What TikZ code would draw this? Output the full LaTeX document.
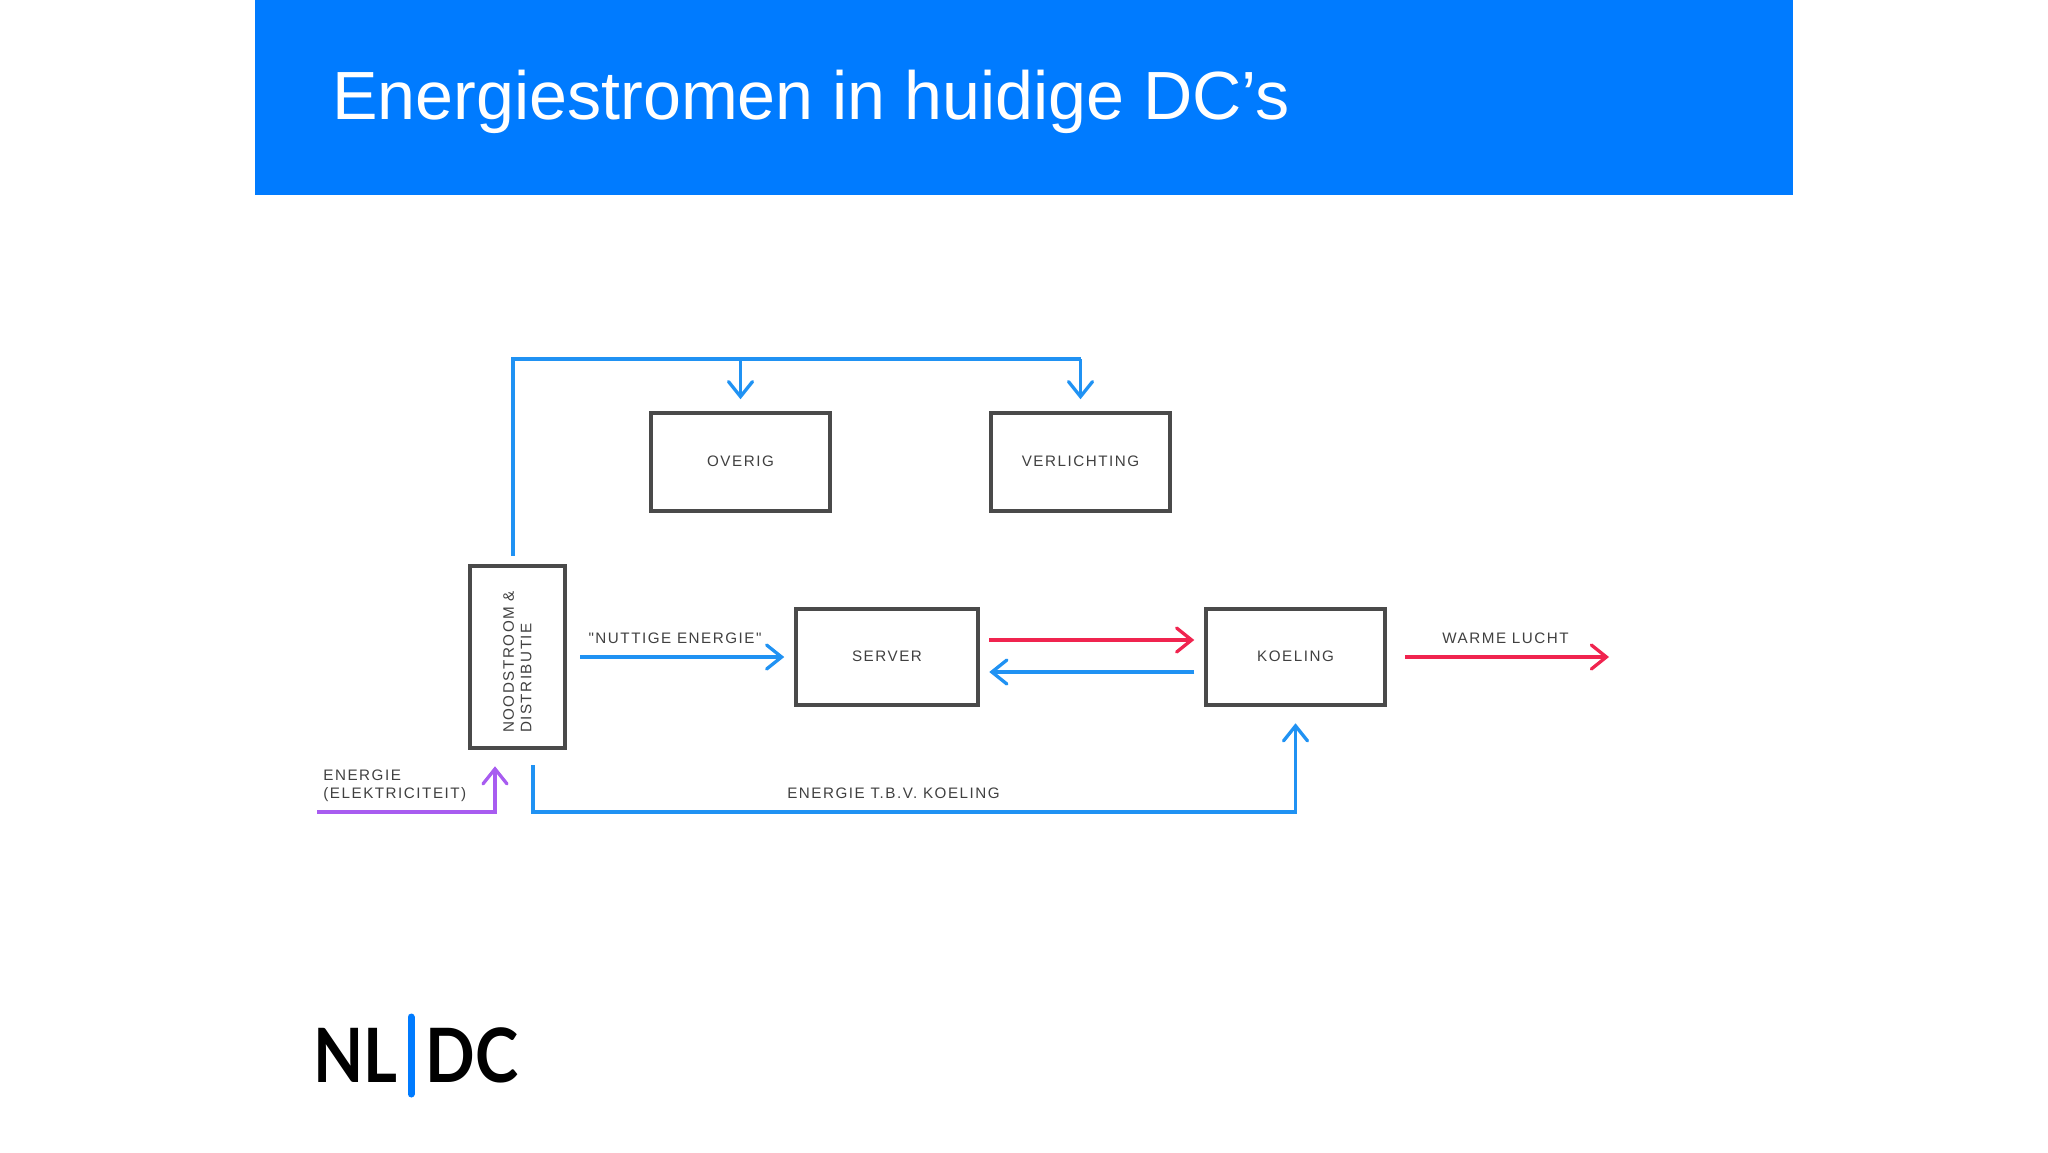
\documentclass[tikz,border=0pt]{standalone}
\usepackage{fontspec}
\setmainfont{Liberation Sans}
\newfontfamily\lblfont[LetterSpace=10]{Liberation Sans}
\newfontfamily\logofont[FakeStretch=0.87]{Lato}
\usetikzlibrary{arrows.meta}
\definecolor{headblue}{HTML}{007BFF}
\definecolor{flowblue}{HTML}{2092F3}
\definecolor{flowred}{HTML}{F0244F}
\definecolor{flowpurple}{HTML}{A85CF0}
\definecolor{boxgrey}{HTML}{4A4A4A}
\definecolor{lblgrey}{HTML}{404040}
\tikzset{
	box/.style={draw=boxgrey, line width=2.25pt, minimum width=89.5pt, minimum height=48pt, inner sep=0pt, text depth=1pt,
		text=lblgrey, font=\lblfont\fontsize{7.6}{8.75}\selectfont},
	lbl/.style={text=lblgrey, inner sep=0pt, font=\lblfont\fontsize{7.6}{9}\selectfont},
	flow/.style={line width=1.65pt, -{Straight Barb[length=7.5pt,width=12pt,line cap=round]}},
	bluerail/.style={draw=flowblue, line width=1.65pt},
}
\begin{document}
\begin{tikzpicture}[x=0.5pt,y=-0.5pt]
	\useasboundingbox (0,0) rectangle (2048,1152);
	\node[fill=headblue, minimum width=769pt, minimum height=97.25pt, inner sep=0pt, anchor=north west] at (255,0) (head) {};
	\node[text=white, inner sep=0pt, anchor=base west, font=\fontsize{34.1}{40}\selectfont] at (332,119.5) (title) {Energiestromen in huidige DC’s};

	\node[box, minimum height=49pt] at (740.5,462) (overig) {OVERIG};
	\node[box, minimum height=49pt] at (1080.5,462) (verlichting) {VERLICHTING};
	\node[box, minimum width=47.5pt, minimum height=91pt] at (517.5,657) (nood) {};
	\node[lbl, rotate=90, align=left, font=\lblfont\fontsize{7.6}{8.75}\selectfont] at (517.5,662) (noodtekst) {NOODSTROOM \&\\DISTRIBUTIE};
	\node[box, minimum width=91pt] at (887,657) (server) {SERVER};
	\node[box] at (1295.5,657) (koeling) {KOELING};

	\coordinate (netin) at (317,812);
	\coordinate (koelhoek) at (1295.5,812);
	\coordinate (warmeend) at (1609,657);
	\coordinate (railoverig) at (740.5,359);
	\coordinate (railverl) at (1080.5,359);

	\draw[bluerail] ([xshift=-2.25pt]nood.north) [shorten <=4pt] |- (railverl);
	\draw[flow, draw=flowblue, shorten >=5.75pt] (railoverig) -- (overig.north);
	\draw[flow, draw=flowblue, shorten >=5.75pt] (railverl) -- (verlichting.north);
	\draw[flow, draw=flowblue, shorten <=6.5pt, shorten >=4.75pt] (nood.east) -- (server.west);
	\draw[flow, draw=flowred, shorten <=4.5pt, shorten >=4.75pt] ([yshift=8.5pt]server.east) -- ([yshift=8.5pt]koeling.west);
	\draw[flow, draw=flowblue, shorten <=4.75pt, shorten >=4.5pt] ([yshift=-7.5pt]koeling.west) -- ([yshift=-7.5pt]server.east);
	\draw[flow, draw=flowred, shorten <=9pt] (koeling.east) -- (warmeend);
	\draw[flow, draw=flowpurple, shorten >=8pt] (netin) -| ([xshift=-11.25pt]nood.south);
	\draw[flow, draw=flowblue, shorten <=7.5pt, shorten >=8pt] ([xshift=7.75pt]nood.south) |- (koelhoek) -- (koeling.south);

	\node[lbl] at (675,638) (nuttig) {"NUTTIGE ENERGIE"};
	\node[lbl] at (1505.5,638) (warme) {WARME LUCHT};
	\node[lbl] at (893.5,793) (koelenergie) {ENERGIE T.B.V. KOELING};
	\node[lbl, align=left, anchor=west] at (323,785.5) (energie) {ENERGIE\\(ELEKTRICITEIT)};

	\node[inner sep=0pt, anchor=base west, font=\logofont\bfseries\fontsize{37.5}{40}\selectfont] at (313,1082) (logonl) {NL};
	\node[inner sep=0pt, anchor=base west, font=\logofont\bfseries\fontsize{37.5}{40}\selectfont] at (425,1082) (logodc) {DC};
	\draw[draw=headblue, line width=3.5pt, line cap=round] (411,1017) -- (411,1094);
\end{tikzpicture}
\end{document}
